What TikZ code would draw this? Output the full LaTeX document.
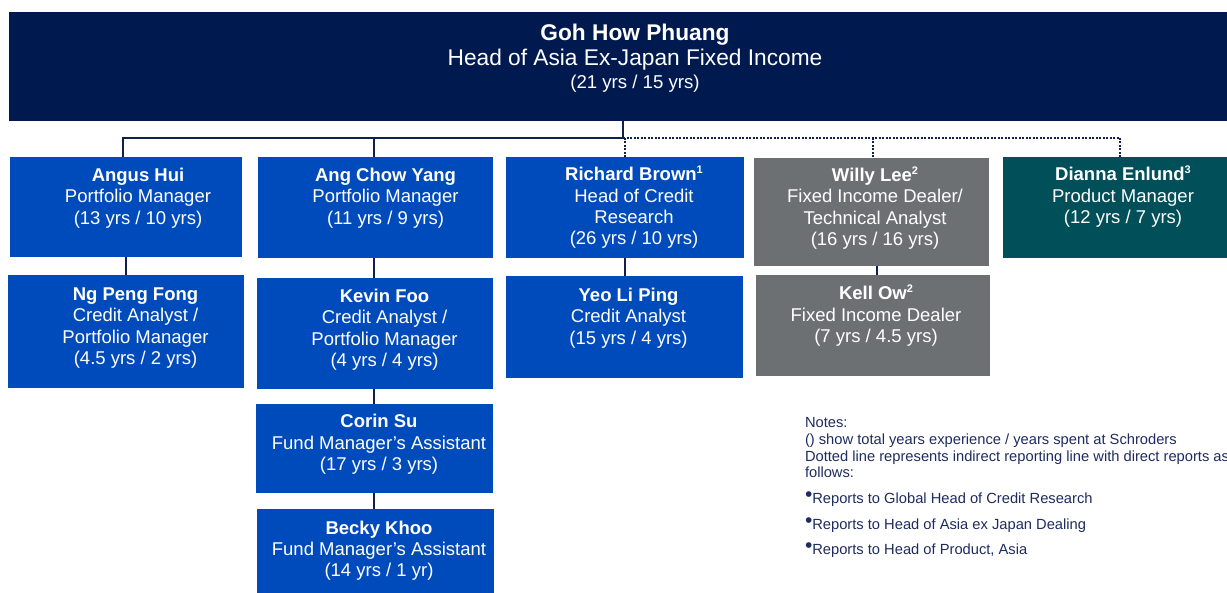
\documentclass[tikz,border=0pt]{standalone}
\usepackage{fontspec}
\setmainfont{Liberation Sans}
\definecolor{topnavy}{HTML}{001A4F}
\definecolor{boxblue}{HTML}{004BBB}
\definecolor{boxgrey}{HTML}{6D7073}
\definecolor{boxteal}{HTML}{004F59}
\definecolor{linenavy}{HTML}{10204A}
\definecolor{notenavy}{HTML}{1E2B5E}
\newcommand\sps[1]{\raisebox{7pt}{\fontsize{11}{11}\selectfont\bfseries #1}}
\newcommand\fl{\rule{0pt}{16pt}}
\newcommand\nbul{\raisebox{2pt}{\fontsize{21}{21}\selectfont•}}
\begin{document}
\begin{tikzpicture}[x=1pt,y=-1pt,
  box/.style={rectangle,inner sep=0,outer sep=0,anchor=north west,draw=none},
  txt/.style={anchor=north,inner sep=0,outer sep=0,align=center,text=white,
    font=\fontsize{18.5}{21.3}\selectfont},
  conn/.style={draw=linenavy,line width=2pt},
  dotconn/.style={draw=linenavy,line width=2pt,dash pattern=on 2pt off 1.5pt},
  note/.style={anchor=base west,inner sep=0,outer sep=0,text=notenavy,
    font=\fontsize{14.7}{16.7}\selectfont}]
\useasboundingbox (0,0) rectangle (1227,593);

% top box
\node[box,fill=topnavy,minimum width=1230,minimum height=109] (top) at (9,12) {};
\node[anchor=base,inner sep=0,text=white,font=\fontsize{22.7}{24}\selectfont\bfseries] (topname) at (635,40.5) {Goh How Phuang};
\node[anchor=base,inner sep=0,text=white,font=\fontsize{22.7}{24}\selectfont] (toptitle) at (635,66) {Head of Asia Ex-Japan Fixed Income};
\node[anchor=base,inner sep=0,text=white,font=\fontsize{18.6}{20}\selectfont] (topyrs) at (635,88.7) {(21 yrs / 15 yrs)};

% column 1
\node[box,fill=boxblue,minimum width=232,minimum height=100] (angus) at (10,157) {};
\node[txt] (angust) at (138,165.5) {\fl\textbf{Angus Hui}\\Portfolio Manager\\(13 yrs / 10 yrs)};
\node[box,fill=boxblue,minimum width=236,minimum height=113] (ng) at (8,275) {};
\node[txt] (ngt) at (135.5,284.5) {\fl\textbf{Ng Peng Fong}\\Credit Analyst /\\Portfolio Manager\\(4.5 yrs / 2 yrs)};

% column 2
\node[box,fill=boxblue,minimum width=235,minimum height=101] (ang) at (258,157) {};
\node[txt] (angt) at (385.5,165.5) {\fl\textbf{Ang Chow Yang}\\Portfolio Manager\\(11 yrs / 9 yrs)};
\node[box,fill=boxblue,minimum width=236,minimum height=111] (kevin) at (257,278) {};
\node[txt] (kevint) at (384.5,286.5) {\fl\textbf{Kevin Foo}\\Credit Analyst /\\Portfolio Manager\\(4 yrs / 4 yrs)};
\node[box,fill=boxblue,minimum width=237,minimum height=89] (corin) at (256,404) {};
\node[txt] (corint) at (379,412) {\fl\textbf{Corin Su}\\Fund Manager’s Assistant\\(17 yrs / 3 yrs)};
\node[box,fill=boxblue,minimum width=237,minimum height=90] (becky) at (257,509) {};
\node[txt] (beckyt) at (379,518) {\fl\textbf{Becky Khoo}\\Fund Manager’s Assistant\\(14 yrs / 1 yr)};

% column 3
\node[box,fill=boxblue,minimum width=238,minimum height=101] (richard) at (506,157) {};
\node[txt] (richardt) at (634,165) {\fl\textbf{Richard Brown}\sps{1}\\Head of Credit\\Research\\(26 yrs / 10 yrs)};
\node[box,fill=boxblue,minimum width=237,minimum height=102] (yeo) at (506,276) {};
\node[txt] (yeot) at (628.5,285.5) {\fl\textbf{Yeo Li Ping}\\Credit Analyst\\(15 yrs / 4 yrs)};

% column 4
\node[box,fill=boxgrey,minimum width=235,minimum height=108] (willy) at (754,158) {};
\node[txt] (willyt) at (875,165.5) {\fl\textbf{Willy Lee}\sps{2}\\Fixed Income Dealer/\\Technical Analyst\\(16 yrs / 16 yrs)};
\node[box,fill=boxgrey,minimum width=234,minimum height=101] (kell) at (756,275) {};
\node[txt] (kellt) at (876,284) {\fl\textbf{Kell Ow}\sps{2}\\Fixed Income Dealer\\(7 yrs / 4.5 yrs)};

% column 5
\node[box,fill=boxteal,minimum width=226,minimum height=101] (dianna) at (1003,157) {};
\node[txt] (diannat) at (1123,165) {\fl\textbf{Dianna Enlund}\sps{3}\\Product Manager\\(12 yrs / 7 yrs)};

% connectors
\coordinate (bus) at (623,138);
\coordinate (busend) at (1120,138);
\coordinate (angusin) at ([xshift=-3pt]angus.north);
\coordinate (angin) at ([xshift=-1.5pt]ang.north);
\coordinate (willyin) at ([xshift=1.5pt]willy.north);
\draw[conn] (top.south -| bus) -- (bus);
\draw[conn] (bus) -- (bus -| angusin) -- (angusin);
\draw[conn] (angin |- bus) -- (angin);
\draw[dotconn] (bus) -- (busend);
\draw[dotconn] (richard.north |- bus) -- (richard.north);
\draw[dotconn] (willyin |- bus) -- (willyin);
\draw[dotconn] (busend) -- (busend |- dianna.north);

\coordinate (angout) at ([xshift=-1.5pt]ang.south);
\coordinate (kevinout) at ([xshift=-1pt]kevin.south);
\coordinate (corinout) at ([xshift=-0.5pt]corin.south);
\coordinate (kellin) at ([xshift=4pt]kell.north);
\draw[conn] (angus.south) -- (ng.north);
\draw[conn] (angout) -- (angout |- kevin.north);
\draw[conn] (kevinout) -- (kevinout |- corin.north);
\draw[conn] (corinout) -- (corinout |- becky.north);
\draw[conn] (richard.south) -- (richard.south |- yeo.north);
\draw[conn] (kellin |- willy.south) -- (kellin);

% notes
\node[note] (n1) at (805,427.5) {Notes:};
\node[note] (n2) at (805,444.5) {() show total years experience / years spent at Schroders};
\node[note] (n3) at (805,461.5) {Dotted line represents indirect reporting line with direct reports as};
\node[note] (n4) at (805,477.5) {follows:};
\node[note] (n5) at (805,503.5) {\nbul Reports to Global Head of Credit Research};
\node[note] (n6) at (805,529.5) {\nbul Reports to Head of Asia ex Japan Dealing};
\node[note] (n7) at (805,554.5) {\nbul Reports to Head of Product, Asia};
\end{tikzpicture}
\end{document}
